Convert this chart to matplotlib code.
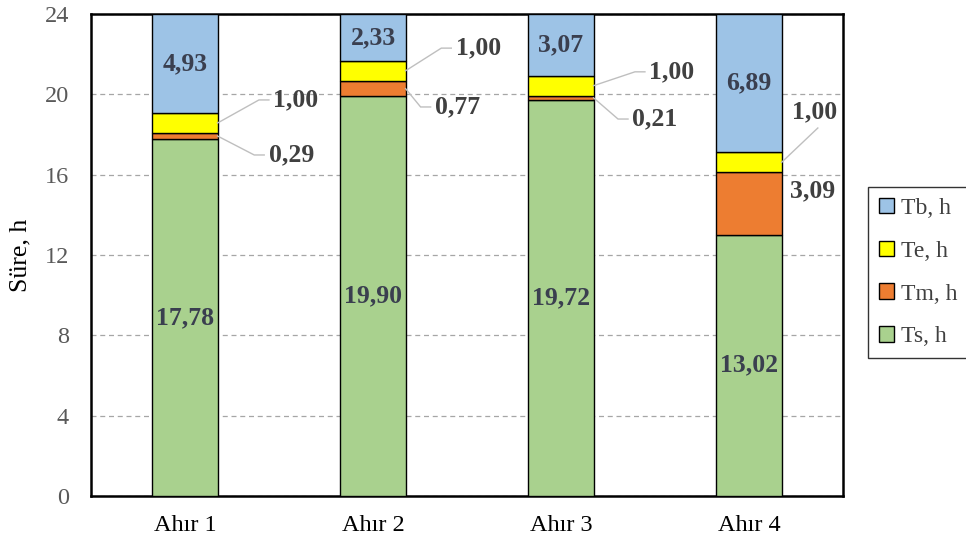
import matplotlib
matplotlib.use("Agg")
import matplotlib.pyplot as plt
import numpy as np

plt.rcParams['font.family'] = ['Liberation Serif', 'DejaVu Serif']

categories = ["Ahır 1", "Ahır 2", "Ahır 3", "Ahır 4"]
ts = [17.78, 19.90, 19.72, 13.02]
tm = [0.29, 0.77, 0.21, 3.09]
te = [1.00, 1.00, 1.00, 1.00]
tb = [4.93, 2.33, 3.07, 6.89]
series_names = ["Ts, h", "Tm, h", "Te, h", "Tb, h"]
yticks = [0, 4, 8, 12, 16, 20, 24]

colors = ["#A9D18E", "#ED7D31", "#FFFF00", "#9DC3E6"]

# outside label placement (data coords) for Tm and Te values
te_label_pos = [(0.59, 19.72), (1.56, 22.30), (2.59, 21.12), (3.35, 19.12)]
tm_label_pos = [(0.565, 16.98), (1.45, 19.37), (2.50, 18.77), (3.34, 15.19)]
# leader style: "elbow" = diagonal + short horizontal, "below" = straight to text bottom
te_leader = ["elbow", "elbow", "elbow", "below"]
tm_leader = ["elbow", "elbow", "elbow", None]

fig = plt.figure(figsize=(9.66, 5.44), dpi=100)
ax = fig.add_axes([0.0942, 0.0882, 0.7785, 0.8861])

x = np.arange(len(categories))
width = 0.346
data = [ts, tm, te, tb]
bottom = np.zeros(len(categories))
bars = []
for vals, col, name in zip(data, colors, series_names):
    b = ax.bar(x, vals, width, bottom=bottom, color=col, edgecolor="black",
               linewidth=1.0, label=name, zorder=3)
    bars.append(b)
    bottom = bottom + np.array(vals)

def fmt(v):
    return f"{v:.2f}".replace(".", ",")

label_fs = 18.5
inner_color = "#3A3F4F"
# values inside the large segments
base = np.zeros(len(categories))
for idx, vals in enumerate(data):
    if idx in (0, 3):
        for i, v in enumerate(vals):
            ax.text(x[i], base[i] + v / 2, fmt(v), ha="center", va="center",
                    fontsize=label_fs, fontweight="bold", color=inner_color, zorder=5)
    base = base + np.array(vals)

# pixel -> data unit helpers for leader geometry
px_x = 4.0 / (0.7785 * 966)
px_y = 24.0 / (0.8861 * 544)

seg_bottom_tm = np.array(ts)
seg_bottom_te = np.array(ts) + np.array(tm)
for vals, bots, positions, leaders in [(tm, seg_bottom_tm, tm_label_pos, tm_leader),
                                       (te, seg_bottom_te, te_label_pos, te_leader)]:
    for i, v in enumerate(vals):
        lx, ly = positions[i]
        ax.text(lx, ly, fmt(v), ha="center", va="center", fontsize=label_fs,
                fontweight="bold", color="#404040", zorder=5)
        x0 = x[i] + width / 2
        y0 = bots[i] + v / 2
        if leaders[i] == "elbow":
            xe = lx - 27 * px_x
            xm = xe - 10 * px_x
            ax.plot([x0, xm, xe], [y0, ly, ly], color="#BFBFBF", lw=1.0,
                    zorder=4, solid_joinstyle="miter")
        elif leaders[i] == "below":
            ax.plot([x0, lx + 3 * px_x], [y0, ly - 16 * px_y], color="#BFBFBF",
                    lw=1.0, zorder=4)

ax.set_xlim(-0.5, 3.5)
ax.set_ylim(0, 24)
ax.set_yticks(yticks)
ax.set_xticks(x)
ax.set_xticklabels(categories, fontsize=17.5, color="black")
ax.tick_params(axis="y", labelsize=17.5, labelcolor="#595959", length=0, pad=16)
ax.tick_params(axis="x", length=0, pad=14)
ax.yaxis.grid(True, linestyle=(0, (4, 3)), color="#A6A6A6", lw=0.9, zorder=0)
ax.set_axisbelow(True)
for s in ax.spines.values():
    s.set_linewidth(1.8)
    s.set_color("black")
ax.set_ylabel("Süre, h", fontsize=18.5, labelpad=9)

handles = [bars[3], bars[2], bars[1], bars[0]]
labels = ["Tb, h", "Te, h", "Tm, h", "Ts, h"]
leg = fig.legend(handles, labels, loc="upper left",
                 bbox_to_anchor=(868 / 966, 1 - 187 / 544),
                 fontsize=17, frameon=True, fancybox=False, edgecolor="black",
                 handlelength=0.65, handleheight=0.65, handletextpad=0.3,
                 labelspacing=0.92, borderpad=0.45, borderaxespad=0)
leg.get_frame().set_linewidth(1.0)
for t in leg.get_texts():
    t.set_color("#404040")

fig.savefig("out.png", dpi=100)
